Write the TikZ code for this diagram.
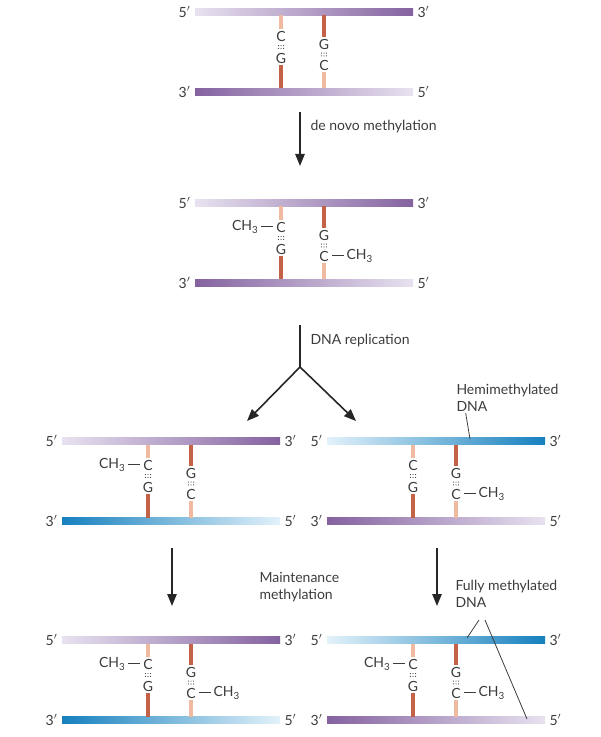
\documentclass[tikz,border=0pt]{standalone}
\usepackage{fontspec}
\setmainfont{Lato}
\usetikzlibrary{arrows.meta}

\definecolor{purpleL}{RGB}{232,226,240}
\definecolor{purpleD}{RGB}{132,98,160}
\definecolor{blueL}{RGB}{226,242,250}
\definecolor{blueD}{RGB}{22,128,190}
\definecolor{stickL}{RGB}{240,186,160}
\definecolor{stickD}{RGB}{196,98,72}
\definecolor{ink}{RGB}{60,60,60}

\tikzset{
  every picture/.style={line width=0.75pt},
  lbl/.style={font=\fontsize{10.5}{12.5}\selectfont, text=ink, inner sep=0.75pt},
  base/.style={font=\fontsize{10.5}{11}\selectfont, text=ink, inner sep=0pt},
  pale/.style={draw=stickL, line width=3pt},
  dark/.style={draw=stickD, line width=3pt},
  step arrow/.style={-{Triangle[length=9pt,width=7pt]}, line width=1.2pt, draw=black!85},
  callout/.style={draw=ink, line width=0.6pt},
}

% pair dots
\newcommand\pairdots[2]{%
  \foreach \dx in {-2.6,0,2.6}{\fill[ink] (#1+\dx,#2-1.4) circle (0.6); \fill[ink] (#1+\dx,#2+1.4) circle (0.6);}}

% #1 name, #2 x, #3 y, #4 top shade, #5 bottom shade, #6 left methyl, #7 right methyl
\newcommand\duplex[7]{%
  \shade[#4] (#2,#3-3.5) rectangle ++(218,7);
  \shade[#5] (#2,#3+76.5) rectangle ++(218,7);
  \node[lbl, anchor=east] (#1-5t) at (#2-3,#3) {5$'$};
  \node[lbl, anchor=west] (#1-3t) at (#2+221,#3) {3$'$};
  \node[lbl, anchor=east] (#1-3b) at (#2-3,#3+80) {3$'$};
  \node[lbl, anchor=west] (#1-5b) at (#2+221,#3+80) {5$'$};
  % left pair: C above G
  \draw[pale] (#2+86,#3+3.5) -- (#2+86,#3+17);
  \node[base] (#1-c1) at (#2+86,#3+24) {C};
  \pairdots{#2+86}{#3+35}
  \node[base] (#1-g1) at (#2+86,#3+46) {G};
  \draw[dark] (#2+86,#3+53) -- (#2+86,#3+76.5);
  % right pair: G above C
  \draw[dark] (#2+129,#3+3.5) -- (#2+129,#3+25);
  \node[base] (#1-g2) at (#2+129,#3+32) {G};
  \pairdots{#2+129}{#3+42.5}
  \node[base] (#1-c2) at (#2+129,#3+53) {C};
  \draw[pale] (#2+129,#3+60) -- (#2+129,#3+76.5);
  \ifnum#6=1 \node[base, anchor=east] at ([xshift=-2pt]#1-c1.west) {CH\textsubscript{3}\,\rule[0.28em]{0.85em}{0.5pt}};\fi
  \ifnum#7=1 \node[base, anchor=west] at ([xshift=2pt]#1-c2.east) {\rule[0.28em]{0.85em}{0.5pt}\,CH\textsubscript{3}};\fi
}

\begin{document}
\begin{tikzpicture}[x=0.75pt,y=0.75pt,yscale=-1,xscale=1]
\useasboundingbox (0,0) rectangle (600,737);

% parent duplex, unmethylated
\duplex{d1}{195}{12}{left color=purpleL,right color=purpleD}{left color=purpleD,right color=purpleL}{0}{0}
% de novo methylation
\coordinate (a1s) at (300,112);
\coordinate (a1e) at (300,166);
\draw[step arrow] (a1s) -- (a1e);
\node[lbl, anchor=west] (denovo) at (309,127) {de novo methylation};

% methylated duplex
\duplex{d2}{195}{203}{left color=purpleL,right color=purpleD}{left color=purpleD,right color=purpleL}{1}{1}

% replication
\coordinate (r0) at (300,325);
\coordinate (r1) at (300,367);
\coordinate (rl) at (247,421);
\coordinate (rr) at (356,421);
\draw[line width=1.2pt, draw=black!85] (r0) -- (r1);
\draw[step arrow] (r1) -- (rl);
\draw[step arrow] (r1) -- (rr);
\node[lbl, anchor=west] (repl) at (309,341) {DNA replication};

% hemimethylated daughters
\duplex{d3}{62}{441}{left color=purpleL,right color=purpleD}{left color=blueD,right color=blueL}{1}{0}
\duplex{d4}{327}{441}{left color=blueL,right color=blueD}{left color=purpleD,right color=purpleL}{0}{1}
\node[lbl, align=left, anchor=south west] (hemi) at (455,413) {Hemimethylated\\DNA};
\coordinate (hemiP) at (470,439);
\draw[callout] ([xshift=8pt]hemi.south west) -- (hemiP);

% maintenance methylation
\coordinate (a2s) at (172,548);
\coordinate (a2e) at (172,606);
\coordinate (a3s) at (437,548);
\coordinate (a3e) at (437,606);
\draw[step arrow] (a2s) -- (a2e);
\draw[step arrow] (a3s) -- (a3e);
\node[lbl, align=left, anchor=north west] (maint) at (258,571) {Maintenance\\methylation};

% fully methylated
\duplex{d5}{62}{640}{left color=purpleL,right color=purpleD}{left color=blueD,right color=blueL}{1}{1}
\duplex{d6}{327}{640}{left color=blueL,right color=blueD}{left color=purpleD,right color=purpleL}{1}{1}
\node[lbl, align=left, anchor=north west] (fully) at (454,579) {Fully methylated\\DNA};
\coordinate (fullyP1) at (467,638);
\coordinate (fullyP2) at (527,719);
\draw[callout] (479,620) -- (fullyP1);
\draw[callout] (485,620) -- (fullyP2);
\end{tikzpicture}
\end{document}
